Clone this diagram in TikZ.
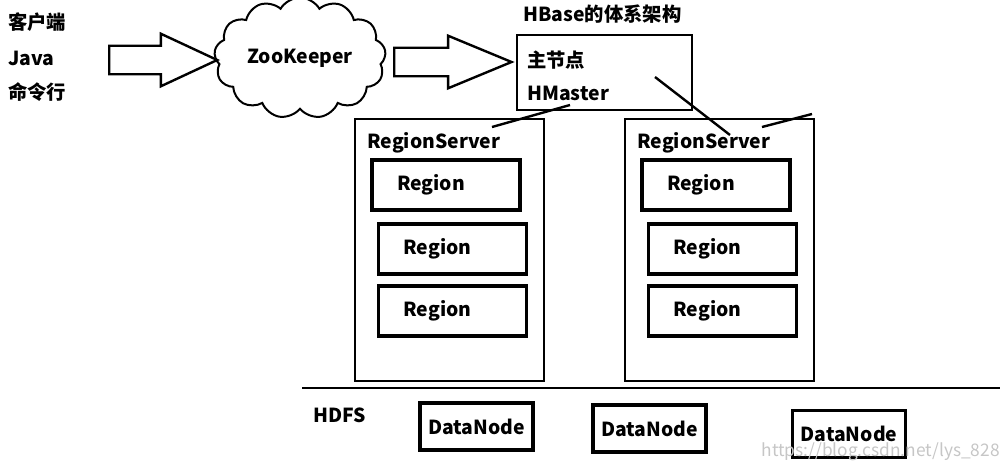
\documentclass[tikz,border=0pt]{standalone}
\usepackage{fontspec}
\setmainfont{Noto Sans CJK SC}
\usetikzlibrary{shapes.symbols,shapes.arrows}
\tikzset{
  txt/.style={anchor=west, inner sep=0pt, font=\bfseries\fontsize{14.5}{17}\selectfont},
  wire/.style={line width=1.8pt},
  serverbox/.style={draw, line width=2pt, inner sep=0pt, minimum width=141.75pt, minimum height=196.5pt},
  regionbox/.style={draw, line width=2.3pt, inner xsep=18.75pt, text width=73.5pt, align=left,
    minimum height=37.5pt, font=\bfseries\fontsize{14.5}{17}\selectfont},
  databox/.style={draw, line width=2.3pt, inner sep=0pt, minimum width=84.75pt, minimum height=35.25pt,
    font=\bfseries\fontsize{14.5}{17}\selectfont},
  blockarrow/.style={single arrow, draw, line width=1.8pt, inner xsep=0pt, inner ysep=9.8pt,
    single arrow head extend=9pt, anchor=tail},
}
\begin{document}
\begin{tikzpicture}[x=0.75pt, y=-0.75pt]
    \useasboundingbox (0,0) rectangle (1008,469);
    % client side
    \node[txt] (cli1) at (8,22) {客户端};
    \node[txt] (cli2) at (8,58) {Java};
    \node[txt] (cli3) at (8,92) {命令行};
    \node[blockarrow, minimum height=81pt, single arrow tip angle=50] (arr1) at (108,60) {};
    \node[cloud, draw, line width=1.5pt, cloud puffs=13, cloud puff arc=120, aspect=1.6,
          minimum width=122pt, minimum height=78pt, font=\bfseries\fontsize{14.5}{17}\selectfont] (zk) at (300,58) {ZooKeeper};
    \node[blockarrow, minimum height=88pt, single arrow tip angle=45] (arr2) at (393,62) {};
    % master
    \node[txt] (title) at (523,14) {HBase的体系架构};
    \node[draw, line width=2pt, inner sep=0pt, minimum width=131.25pt, minimum height=56.25pt] (hm) at (604.5,72.5) {};
    \node[txt] (hmcn) at (527,60) {主节点};
    \node[txt] (hmen) at (527,93) {HMaster};
    % region servers
    \foreach \s/\dx in {1/0, 2/270}{
        \node[serverbox] (rs\s) at (449.5+\dx,250) {};
        \node[txt] (rsl\s) at (367+\dx,143) {RegionServer};
        \node[regionbox] (r\s-1) at (446+\dx,185) {Region};
        \node[regionbox] (r\s-2) at (452.5+\dx,249) {Region};
        \node[regionbox] (r\s-3) at (452.5+\dx,311) {Region};
    }
    \coordinate (hmA) at (570,105);
    \coordinate (rs1A) at (492,127);
    \coordinate (hmB) at (655,77);
    \coordinate (rs2A) at (730,135);
    \coordinate (rs2B) at (762,127);
    \coordinate (rs2C) at (812,114);
    \draw[wire] (hmA) -- (rs1A);
    \draw[wire] (hmB) -- (rs2A);
    \draw[wire] (rs2B) -- (rs2C);
    % hdfs
    \coordinate (hdfsL) at (302,388);
    \coordinate (hdfsR) at (1000,388);
    \draw[line width=2pt] (hdfsL) -- (hdfsR);
    \node[txt] (hdfs) at (313,415) {HDFS};
    \node[databox] (dn1) at (476.5,426.5) {DataNode};
    \node[databox] (dn2) at (649.5,428.5) {DataNode};
    \node[databox] (dn3) at (849,434) {DataNode};
    \node[anchor=east, inner sep=0pt, text=gray!45, font=\fontsize{13}{15}\selectfont] (wm) at (1000,452) {https://blog.csdn.net/lys\_828};
\end{tikzpicture}
\end{document}
